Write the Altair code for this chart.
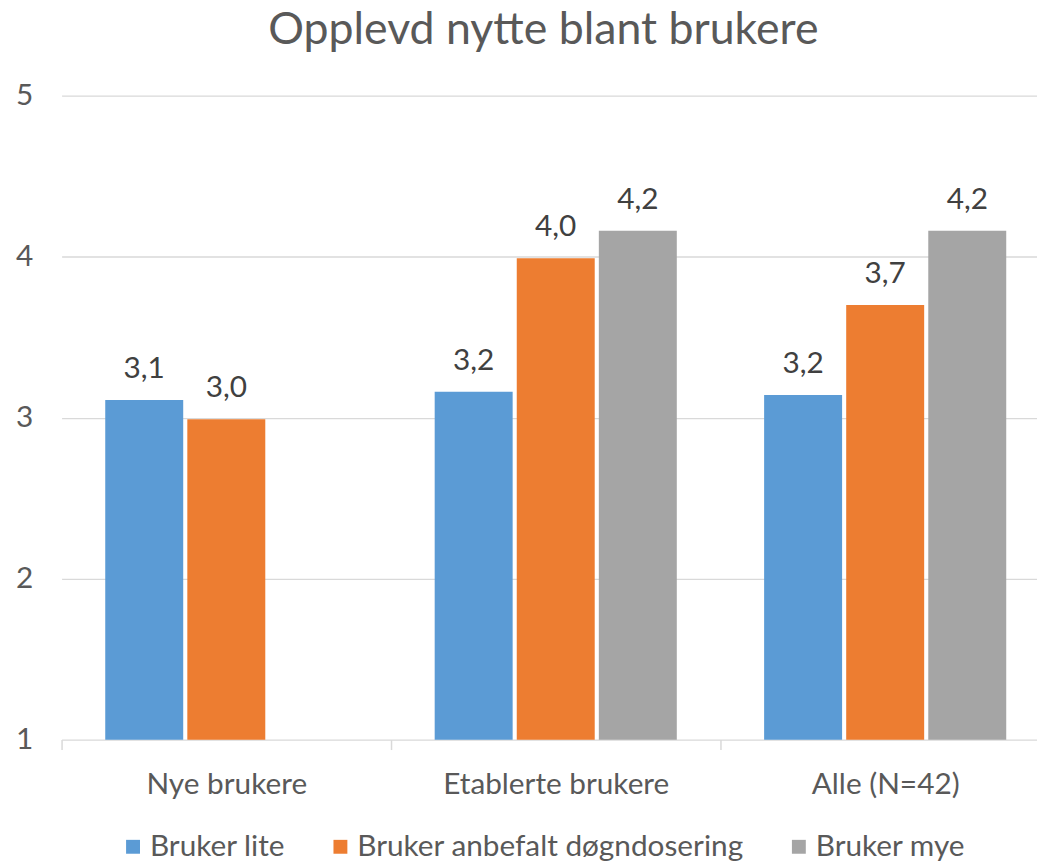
import altair as alt
import pandas as pd

groups = ["Nye brukere", "Etablerte brukere", "Alle (N=42)"]
series = ["Bruker lite", "Bruker anbefalt døgndosering", "Bruker mye"]
colors = ["#5B9BD5", "#ED7D31", "#A5A5A5"]

bruker_lite = [3.11, 3.16, 3.14]
bruker_anbefalt = [2.99, 3.99, 3.70]
bruker_mye = [None, 4.16, 4.16]

labels_lite = ["3,1", "3,2", "3,2"]
labels_anbefalt = ["3,0", "4,0", "3,7"]
labels_mye = [None, "4,2", "4,2"]

rows = []
for s, vals, labs in zip(series, [bruker_lite, bruker_anbefalt, bruker_mye],
                         [labels_lite, labels_anbefalt, labels_mye]):
    for g, v, l in zip(groups, vals, labs):
        if v is not None:
            rows.append({"gruppe": g, "serie": s, "verdi": v, "etikett": l})
df = pd.DataFrame(rows)

FONT = "Lato"
FS = 30

x = alt.X("gruppe:N", sort=groups, title=None,
          scale=alt.Scale(domain=groups, range=[0, 996], paddingInner=0, paddingOuter=0),
          axis=alt.Axis(labelAngle=0, tickBand="extent", domain=False, ticks=True,
                        tickSize=10, tickColor="#D9D9D9", tickWidth=1.5,
                        labelFontSize=FS, labelColor="#595959", labelPadding=20,
                        labelFont=FONT, labelLimit=0))
xo = alt.XOffset("serie:N", sort=series,
                 scale=alt.Scale(domain=series, paddingInner=0.05, paddingOuter=0.532))
y = alt.Y("verdi:Q", title=None,
          scale=alt.Scale(domain=[1, 5], nice=False, zero=False),
          axis=alt.Axis(values=[1, 2, 3, 4, 5], format="d", grid=True,
                        gridColor="#D9D9D9", gridWidth=1.5, domain=False, ticks=False,
                        labelFontSize=FS, labelColor="#595959", labelPadding=29,
                        labelFont=FONT))

color = alt.Color("serie:N", sort=series,
                  scale=alt.Scale(domain=series, range=colors),
                  legend=alt.Legend(title=None, orient="none", legendX=57, legendY=742,
                                    direction="horizontal", symbolType="square",
                                    symbolSize=196, symbolStrokeWidth=0,
                                    labelFontSize=FS, labelFont=FONT,
                                    labelColor="#595959", columnPadding=40,
                                    labelOffset=2, labelLimit=0))

base = alt.Chart(df)
bars = base.mark_bar().encode(x=x, xOffset=xo, y=y, y2=alt.datum(1), color=color)
text = base.mark_text(baseline="alphabetic", dy=-22, fontSize=FS, color="#404040",
                      font=FONT).encode(x=x, xOffset=xo, y=y, text="etikett:N")

chart = alt.layer(bars, text).properties(
    width=983,
    height=649,
    autosize=alt.AutoSizeParams(type="none"),
    padding={"left": 54, "top": 85, "right": 0, "bottom": 119},
    title=alt.Title("Opplevd nytte blant brukere", fontSize=45, font=FONT,
                    fontWeight="normal", color="#595959", offset=-8, dx=-6,
                    frame="group", anchor="middle", baseline="alphabetic"),
).configure_view(stroke=None)

chart.save("out.html", embed_options={"renderer": "svg", "actions": False})
